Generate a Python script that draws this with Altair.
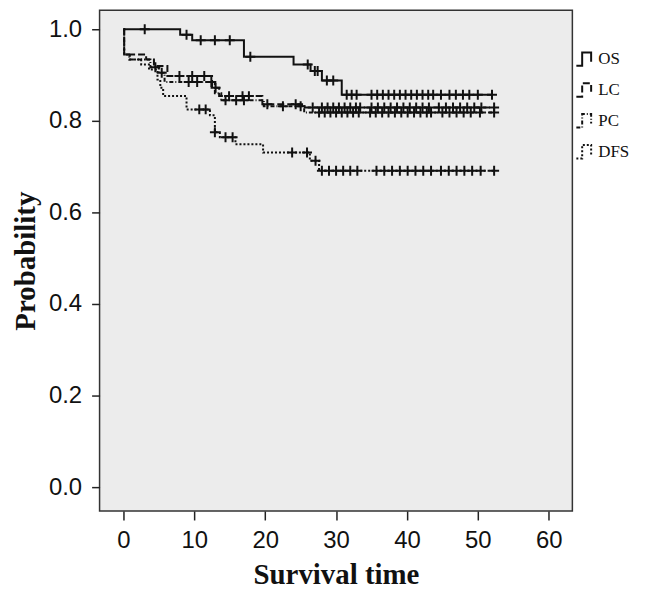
import altair as alt
import pandas as pd

# ---------------- data ----------------
series_names = ["OS", "LC", "PC", "DFS"]

# step functions: event times and survival level after each event
os_times = [0, 8.0, 9.7, 17.0, 24.0, 26.4, 28.0, 30.8]
os_surv = [1.0, 0.988, 0.976, 0.940, 0.923, 0.909, 0.888, 0.857]
os_censor = [3.0, 8.9, 10.9, 12.9, 15.0, 17.9, 26.0, 27.0, 27.4, 28.7, 29.6,
             31.5, 32.2, 32.9, 35.0, 35.8, 36.6, 37.4, 38.2, 39.0, 39.8, 40.6,
             41.4, 42.2, 43.0, 43.7, 44.8, 46.0, 46.9, 47.9, 48.8, 50.0, 52.0]

lc_times = [0, 0.1, 3.2, 4.3, 6.2, 12.5, 13.5, 19.6, 25.2]
lc_surv = [1.0, 0.945, 0.934, 0.920, 0.898, 0.872, 0.854, 0.836, 0.829]
lc_censor = [7.9, 9.7, 11.4, 13.0, 14.9, 16.8, 17.7, 20.3, 24.3, 26.7,
             28.0, 28.8, 29.6, 30.4, 31.2, 32.0, 32.8, 33.4, 35.0, 35.9, 36.8,
             37.7, 38.6, 39.5, 40.4, 41.3, 42.2, 43.1, 44.5, 45.5, 46.5, 47.5,
             48.5, 49.5, 50.5, 52.3]

pc_times = [0, 0.1, 0.8, 3.8, 5.0, 5.8, 12.9, 13.8, 19.8, 25.5]
pc_surv = [1.0, 0.945, 0.934, 0.917, 0.905, 0.885, 0.860, 0.845, 0.832, 0.818]
pc_censor = [4.5, 5.4, 9.2, 10.4, 12.4, 14.4, 15.9, 17.0, 22.5, 25.0, 27.6,
             28.4, 29.2, 30.0, 30.8, 31.6, 32.4, 33.2, 34.8, 35.6, 36.5, 37.4,
             38.3, 39.2, 40.1, 41.0, 41.9, 42.8, 43.4, 45.0, 46.0, 47.0, 48.0,
             49.0, 50.3, 52.3]

dfs_times = [0, 0.1, 0.9, 2.5, 3.6, 4.8, 5.2, 5.6, 8.9, 12.2, 12.9, 13.6,
             15.8, 19.7, 26.3, 27.6]
dfs_surv = [1.0, 0.945, 0.934, 0.923, 0.912, 0.890, 0.872, 0.854, 0.825,
            0.812, 0.775, 0.764, 0.749, 0.731, 0.713, 0.691]
dfs_censor = [10.7, 11.6, 12.9, 14.4, 15.4, 23.8, 25.9, 27.1, 28.0, 29.0,
              30.0, 31.0, 32.0, 33.0, 35.7, 36.8, 37.9, 39.0, 40.1, 41.2, 42.3,
              43.4, 44.8, 45.9, 47.0, 48.1, 49.2, 50.4, 52.3]

x_ticks = [0, 10, 20, 30, 40, 50, 60]
y_ticks = [0.0, 0.2, 0.4, 0.6, 0.8, 1.0]

dash_patterns = [[1, 0], [7, 3], [4, 2, 1, 2], [2, 2]]

# ---------------- build tables ----------------
series_data = {
    "OS": (os_times, os_surv, os_censor),
    "LC": (lc_times, lc_surv, lc_censor),
    "PC": (pc_times, pc_surv, pc_censor),
    "DFS": (dfs_times, dfs_surv, dfs_censor),
}


def surv_at(times, surv, t):
    s = surv[0]
    for ti, si in zip(times, surv):
        if ti <= t:
            s = si
    return s


line_rows = []
cens_rows = []
for name in series_names:
    times, surv, cens = series_data[name]
    k = 0
    for ti, si in zip(times, surv):
        line_rows.append({"series": name, "t": ti, "s": si, "order": k})
        k += 1
    line_rows.append({"series": name, "t": max(cens), "s": surv[-1], "order": k})
    for c in cens:
        cens_rows.append({"series": name, "t": c, "s": surv_at(times, surv, c)})

lines_df = pd.DataFrame(line_rows)
cens_df = pd.DataFrame(cens_rows)

W, H = 475, 503
x_scale = alt.Scale(domain=[-3.37, 63.34], nice=False, zero=False)
y_scale = alt.Scale(domain=[-0.0522, 1.0413], nice=False, zero=False)

x_axis = alt.Axis(values=x_ticks, format="d", tickSize=9, labelPadding=9,
                  titleBaseline="alphabetic", titleX=W / 2, titleY=73,
                  titleAlign="center")
y_axis = alt.Axis(values=y_ticks, format=".1f", tickSize=8, labelPadding=10,
                  titleAngle=270, titleBaseline="alphabetic", titleX=-65,
                  titleY=H / 2, titleAlign="center")

lines = alt.Chart(lines_df).mark_line(
    interpolate="step-after", strokeWidth=2, color="#111"
).encode(
    x=alt.X("t:Q", scale=x_scale, axis=x_axis, title="Survival time"),
    y=alt.Y("s:Q", scale=y_scale, axis=y_axis, title="Probability"),
    detail="series:N",
    order="order:Q",
    strokeDash=alt.StrokeDash(
        "series:N",
        scale=alt.Scale(domain=series_names, range=dash_patterns),
        legend=alt.Legend(
            title=None, orient="none", legendX=478, legendY=39,
            symbolType="M-1,0.75H-0.35V-0.75H0.65V0.3",
            symbolSize=324, symbolStrokeWidth=2, symbolStrokeColor="#111",
            symbolFillColor="transparent", labelFont="Liberation Serif",
            labelFontSize=17, labelColor="#111", labelOffset=3,
            rowPadding=9, padding=0,
        ),
    ),
)

censors = alt.Chart(cens_df).mark_point(
    shape="M0,-1V1M-1,0H1", size=100, strokeWidth=2, color="#111",
    filled=False, opacity=1
).encode(
    x=alt.X("t:Q", scale=x_scale),
    y=alt.Y("s:Q", scale=y_scale),
)

chart = alt.layer(lines, censors).properties(
    width=W, height=H,
    autosize=alt.AutoSizeParams(type="none"),
    padding={"left": 92, "top": 1, "right": 80, "bottom": 80},
    background="white",
).configure_view(
    stroke="#333", strokeWidth=1.5, fill="#ececec"
).configure_axis(
    labelFont="Liberation Sans", labelFontSize=24, labelColor="#111",
    tickColor="#222", tickWidth=1.5, domain=False, grid=False,
    titleFont="Liberation Serif", titleFontWeight="bold", titleFontSize=29,
    titleColor="#111",
)

chart.save("out.html", embed_options={"renderer": "svg", "actions": False})
